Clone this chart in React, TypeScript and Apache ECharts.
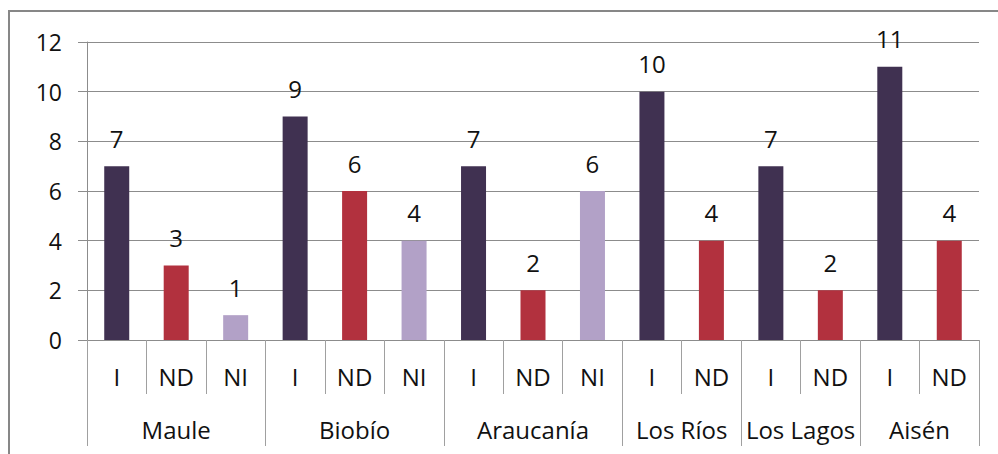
import React, { useEffect, useRef } from "react";
import * as echarts from "echarts";

const regions = ["Maule", "Biobío", "Araucanía", "Los Ríos", "Los Lagos", "Aisén"];
const regionTypes = [
  ["I", "ND", "NI"],
  ["I", "ND", "NI"],
  ["I", "ND", "NI"],
  ["I", "ND"],
  ["I", "ND"],
  ["I", "ND"],
];
const regionValues = [
  [7, 3, 1],
  [9, 6, 4],
  [7, 2, 6],
  [10, 4],
  [7, 2],
  [11, 4],
];
const yTicks = [0, 2, 4, 6, 8, 10, 12];
const typeColors: Record<string, string> = { I: "#403151", ND: "#B2313E", NI: "#B2A1C7" };

const FONT = "'Open Sans', 'Liberation Sans', sans-serif";

export default function App() {
  const ref = useRef<HTMLDivElement>(null);
  useEffect(() => {
    if (!ref.current) return;
    const chart = echarts.init(ref.current, undefined, { renderer: "svg" });
    const cats: string[] = [];
    const data: any[] = [];
    const boundaries: number[] = [0];
    const centers: number[] = [];
    regionTypes.forEach((types, r) => {
      const start = cats.length;
      types.forEach((t, i) => {
        cats.push(t);
        data.push({ value: regionValues[r][i], itemStyle: { color: typeColors[t] } });
      });
      boundaries.push(cats.length);
      centers.push((start + cats.length) / 2);
    });
    const gray = "#8C8C8C";
    chart.setOption({
      animation: false,
      textStyle: { fontFamily: FONT },
      grid: { left: 87, right: 19, top: 42, bottom: 114, containLabel: false },
      graphic: [
        {
          type: "rect",
          shape: { x: 9, y: 11, width: 1010, height: 470 },
          style: { fill: "none", stroke: "#878787", lineWidth: 2 },
          silent: true,
        },
      ],
      xAxis: [
        {
          type: "category",
          data: cats,
          boundaryGap: true,
          axisLine: { lineStyle: { color: gray, width: 1 } },
          axisTick: { show: true, length: 54, lineStyle: { color: "#A0A0A0" } },
          axisLabel: { color: "#111", fontSize: 24, margin: 24, fontFamily: FONT },
          splitLine: { show: false },
        },
        {
          type: "value",
          min: 0,
          max: cats.length,
          position: "bottom",
          axisLine: { show: false },
          axisTick: { show: true, length: 106, customValues: boundaries, lineStyle: { color: "#A0A0A0" } },
          axisLabel: {
            customValues: centers,
            color: "#111",
            fontSize: 24,
            margin: 77,
            fontFamily: FONT,
            formatter: (v: number) => {
              const idx = centers.findIndex((c) => Math.abs(c - v) < 1e-6);
              return idx >= 0 ? regions[idx] : "";
            },
          },
          splitLine: { show: false },
        },
      ],
      yAxis: {
        type: "value",
        min: yTicks[0],
        max: yTicks[yTicks.length - 1],
        interval: 2,
        axisLine: { show: true, lineStyle: { color: gray } },
        axisTick: { show: true, inside: false, length: 9, lineStyle: { color: gray } },
        axisLabel: { color: "#111", fontSize: 23, margin: 25, fontFamily: FONT },
        splitLine: { show: true, lineStyle: { color: gray, width: 1 } },
      },
      series: [
        {
          type: "bar",
          xAxisIndex: 0,
          data,
          barWidth: 25,
          label: {
            show: true,
            position: "top",
            distance: 16,
            color: "#111",
            fontSize: 24,
            fontFamily: FONT,
          },
        },
      ],
    });
    return () => chart.dispose();
  }, []);
  return <div ref={ref} style={{ width: 998, height: 454, position: "absolute", left: 0, top: 0, background: "#fff" }} />;
}
